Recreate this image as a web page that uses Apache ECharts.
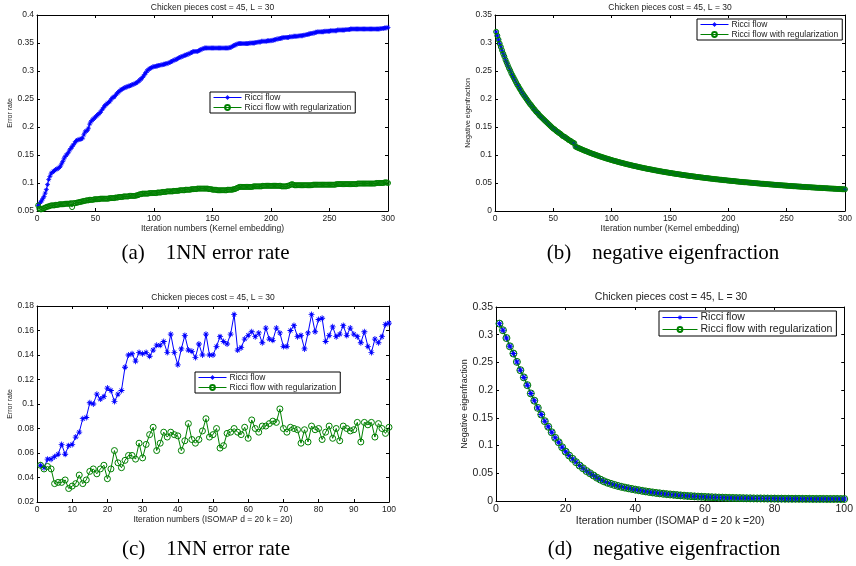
<!DOCTYPE html>
<html>
<head>
<meta charset="utf-8">
<script src="https://cdn.jsdelivr.net/npm/echarts@6/dist/echarts.min.js"></script>
<style>
  html, body { margin: 0; padding: 0; background: #fff; }
  #chart { width: 856px; height: 566px; }
</style>
</head>
<body>
<div id="chart"></div>
<script>
// (a) 1NN error rate, kernel embedding, iterations 1..300
const errRicciA = [
  0.060,0.063,0.066,0.068,0.072,0.076,0.082,0.088,0.097,0.106,
  0.112,0.117,0.119,0.121,0.122,0.124,0.125,0.126,0.128,0.130,
  0.134,0.138,0.143,0.147,0.150,0.152,0.155,0.159,0.162,0.165,
  0.168,0.171,0.174,0.176,0.177,0.178,0.178,0.179,0.180,0.186,
  0.191,0.193,0.194,0.198,0.205,0.209,0.212,0.214,0.216,0.218,
  0.220,0.222,0.224,0.226,0.229,0.232,0.235,0.238,0.240,0.242,
  0.244,0.245,0.248,0.251,0.253,0.254,0.256,0.259,0.261,0.263,
  0.265,0.267,0.268,0.269,0.270,0.271,0.272,0.273,0.273,0.274,
  0.275,0.276,0.277,0.278,0.279,0.280,0.282,0.284,0.286,0.288,
  0.291,0.294,0.297,0.300,0.302,0.304,0.305,0.306,0.307,0.308,
  0.308,0.309,0.309,0.310,0.310,0.311,0.311,0.312,0.312,0.313,
  0.313,0.314,0.315,0.316,0.317,0.318,0.319,0.320,0.321,0.322,
  0.323,0.324,0.325,0.326,0.327,0.328,0.328,0.329,0.330,0.331,
  0.332,0.333,0.334,0.335,0.335,0.335,0.335,0.336,0.337,0.338,
  0.339,0.340,0.341,0.341,0.341,0.341,0.341,0.341,0.341,0.341,
  0.341,0.341,0.341,0.341,0.341,0.341,0.341,0.341,0.341,0.341,
  0.341,0.341,0.341,0.341,0.342,0.343,0.344,0.345,0.346,0.347,
  0.348,0.349,0.349,0.349,0.349,0.349,0.349,0.349,0.349,0.349,
  0.349,0.350,0.350,0.350,0.350,0.350,0.351,0.351,0.352,0.352,
  0.352,0.353,0.353,0.353,0.353,0.353,0.354,0.354,0.354,0.354,
  0.355,0.355,0.356,0.356,0.357,0.357,0.358,0.358,0.359,0.359,
  0.360,0.360,0.360,0.360,0.360,0.361,0.361,0.361,0.362,0.362,
  0.362,0.362,0.362,0.363,0.363,0.363,0.363,0.364,0.364,0.365,
  0.365,0.366,0.366,0.367,0.367,0.368,0.368,0.369,0.369,0.370,
  0.370,0.370,0.370,0.370,0.370,0.371,0.371,0.371,0.371,0.371,
  0.372,0.372,0.372,0.372,0.372,0.372,0.373,0.373,0.373,0.373,
  0.373,0.373,0.373,0.374,0.374,0.374,0.374,0.375,0.375,0.375,
  0.375,0.375,0.375,0.375,0.375,0.375,0.375,0.375,0.375,0.375,
  0.375,0.375,0.375,0.375,0.375,0.375,0.375,0.375,0.375,0.375,
  0.375,0.375,0.375,0.376,0.376,0.376,0.377,0.377,0.377,0.378
];
const errRegA = [
  0.060,0.054,0.053,0.053,0.054,0.055,0.056,0.057,0.058,0.058,
  0.059,0.060,0.060,0.060,0.060,0.061,0.061,0.061,0.062,0.062,
  0.062,0.062,0.062,0.063,0.063,0.063,0.063,0.063,0.064,0.057,
  0.064,0.064,0.064,0.065,0.065,0.066,0.066,0.067,0.067,0.068,
  0.068,0.069,0.069,0.069,0.070,0.070,0.070,0.070,0.071,0.071,
  0.071,0.071,0.071,0.072,0.072,0.072,0.072,0.072,0.072,0.072,
  0.072,0.073,0.073,0.073,0.073,0.073,0.074,0.074,0.074,0.075,
  0.075,0.075,0.075,0.076,0.076,0.076,0.076,0.076,0.077,0.077,
  0.077,0.077,0.077,0.077,0.078,0.078,0.079,0.080,0.080,0.081,
  0.081,0.081,0.081,0.081,0.081,0.082,0.082,0.082,0.082,0.082,
  0.082,0.082,0.083,0.083,0.083,0.083,0.084,0.084,0.084,0.084,
  0.085,0.085,0.085,0.085,0.085,0.085,0.086,0.086,0.086,0.086,
  0.086,0.087,0.087,0.087,0.087,0.087,0.088,0.088,0.088,0.088,
  0.088,0.089,0.089,0.089,0.089,0.089,0.090,0.090,0.090,0.090,
  0.090,0.090,0.090,0.090,0.090,0.090,0.089,0.089,0.089,0.088,
  0.088,0.088,0.088,0.087,0.087,0.087,0.087,0.087,0.087,0.087,
  0.087,0.087,0.088,0.088,0.088,0.088,0.088,0.089,0.089,0.090,
  0.091,0.092,0.093,0.093,0.093,0.093,0.093,0.093,0.093,0.093,
  0.093,0.093,0.093,0.093,0.094,0.094,0.094,0.094,0.094,0.094,
  0.094,0.094,0.095,0.095,0.095,0.095,0.095,0.095,0.095,0.095,
  0.095,0.095,0.095,0.095,0.095,0.095,0.095,0.095,0.094,0.094,
  0.094,0.094,0.094,0.095,0.095,0.096,0.097,0.098,0.097,0.096,
  0.096,0.096,0.096,0.096,0.096,0.096,0.096,0.096,0.096,0.096,
  0.096,0.096,0.096,0.096,0.096,0.097,0.097,0.097,0.097,0.097,
  0.097,0.097,0.097,0.097,0.097,0.097,0.097,0.097,0.097,0.097,
  0.097,0.097,0.097,0.097,0.097,0.098,0.098,0.098,0.098,0.098,
  0.098,0.098,0.098,0.098,0.098,0.098,0.098,0.098,0.098,0.098,
  0.098,0.098,0.098,0.099,0.099,0.099,0.099,0.099,0.099,0.099,
  0.099,0.099,0.099,0.099,0.099,0.099,0.099,0.099,0.099,0.100,
  0.100,0.100,0.100,0.100,0.100,0.100,0.101,0.101,0.101,0.100
];

// (b) negative eigenfraction, kernel embedding (both curves overlap)
const eigRicciB = [
  0.320,0.313,0.306,0.299,0.293,0.287,0.281,0.276,0.270,0.265,
  0.260,0.255,0.251,0.246,0.242,0.238,0.234,0.230,0.226,0.223,
  0.219,0.216,0.212,0.209,0.206,0.203,0.200,0.197,0.194,0.191,
  0.189,0.186,0.183,0.181,0.178,0.176,0.174,0.171,0.169,0.167,
  0.165,0.163,0.161,0.159,0.157,0.155,0.153,0.151,0.149,0.147,
  0.146,0.144,0.142,0.141,0.139,0.138,0.136,0.134,0.133,0.132,
  0.130,0.129,0.127,0.126,0.125,0.123,0.122,0.121,0.1150,0.1140,
  0.1131,0.1121,0.1112,0.1103,0.1094,0.1085,0.1077,0.1068,0.1060,0.1051,
  0.1043,0.1035,0.1027,0.1020,0.1012,0.1004,0.0997,0.0990,0.0983,0.0975,
  0.0968,0.0961,0.0955,0.0948,0.0941,0.0935,0.0928,0.0922,0.0916,0.0910,
  0.0903,0.0897,0.0892,0.0886,0.0880,0.0874,0.0869,0.0863,0.0858,0.0852,
  0.0847,0.0841,0.0836,0.0831,0.0826,0.0821,0.0816,0.0811,0.0806,0.0801,
  0.0797,0.0792,0.0787,0.0783,0.0778,0.0774,0.0769,0.0765,0.0761,0.0756,
  0.0752,0.0748,0.0744,0.0740,0.0736,0.0732,0.0728,0.0724,0.0720,0.0716,
  0.0712,0.0709,0.0705,0.0701,0.0698,0.0694,0.0691,0.0687,0.0684,0.0680,
  0.0677,0.0673,0.0670,0.0667,0.0663,0.0660,0.0657,0.0654,0.0651,0.0647,
  0.0644,0.0641,0.0638,0.0635,0.0632,0.0629,0.0626,0.0623,0.0621,0.0618,
  0.0615,0.0612,0.0609,0.0607,0.0604,0.0601,0.0599,0.0596,0.0593,0.0591,
  0.0588,0.0586,0.0583,0.0581,0.0578,0.0576,0.0573,0.0571,0.0568,0.0566,
  0.0564,0.0561,0.0559,0.0557,0.0554,0.0552,0.0550,0.0548,0.0545,0.0543,
  0.0541,0.0539,0.0537,0.0535,0.0533,0.0531,0.0528,0.0526,0.0524,0.0522,
  0.0520,0.0518,0.0516,0.0514,0.0513,0.0511,0.0509,0.0507,0.0505,0.0503,
  0.0501,0.0499,0.0497,0.0496,0.0494,0.0492,0.0490,0.0488,0.0487,0.0485,
  0.0483,0.0481,0.0480,0.0478,0.0476,0.0475,0.0473,0.0471,0.0470,0.0468,
  0.0466,0.0465,0.0463,0.0462,0.0460,0.0458,0.0457,0.0455,0.0454,0.0452,
  0.0451,0.0449,0.0448,0.0446,0.0445,0.0443,0.0442,0.0440,0.0439,0.0437,
  0.0436,0.0435,0.0433,0.0432,0.0430,0.0429,0.0428,0.0426,0.0425,0.0424,
  0.0422,0.0421,0.0420,0.0418,0.0417,0.0416,0.0414,0.0413,0.0412,0.0411,
  0.0409,0.0408,0.0407,0.0406,0.0405,0.0403,0.0402,0.0401,0.0400,0.0399,
  0.0397,0.0396,0.0395,0.0394,0.0393,0.0392,0.0391,0.0389,0.0388,0.0387
];
const eigRegB = eigRicciB.slice();

// (c) 1NN error rate, ISOMAP, iterations 1..100
const errRicciC = [
  0.050,0.048,0.055,0.055,0.057,0.059,0.067,0.059,0.066,0.067,
  0.073,0.077,0.088,0.089,0.101,0.100,0.108,0.104,0.106,0.113,
  0.111,0.102,0.108,0.111,0.130,0.140,0.141,0.135,0.142,0.141,
  0.142,0.139,0.144,0.148,0.148,0.151,0.142,0.157,0.142,0.132,
  0.145,0.156,0.144,0.143,0.138,0.149,0.140,0.157,0.140,0.140,
  0.147,0.155,0.151,0.149,0.157,0.173,0.144,0.146,0.153,0.156,
  0.159,0.155,0.158,0.150,0.162,0.153,0.152,0.162,0.158,0.147,
  0.147,0.160,0.164,0.155,0.156,0.145,0.158,0.173,0.159,0.169,
  0.170,0.151,0.156,0.163,0.155,0.157,0.164,0.156,0.162,0.157,
  0.155,0.150,0.159,0.147,0.142,0.153,0.150,0.155,0.165,0.166
];
const errRegC = [
  0.050,0.047,0.049,0.047,0.035,0.036,0.036,0.038,0.031,0.033,
  0.035,0.042,0.035,0.038,0.045,0.047,0.043,0.047,0.050,0.039,
  0.047,0.062,0.052,0.048,0.054,0.058,0.058,0.055,0.068,0.056,
  0.067,0.075,0.081,0.062,0.068,0.077,0.073,0.077,0.075,0.074,
  0.062,0.070,0.084,0.071,0.068,0.071,0.078,0.088,0.073,0.075,
  0.080,0.064,0.066,0.076,0.077,0.080,0.077,0.075,0.081,0.072,
  0.087,0.080,0.077,0.082,0.082,0.084,0.086,0.085,0.096,0.080,
  0.077,0.081,0.080,0.079,0.068,0.079,0.069,0.082,0.079,0.080,
  0.071,0.077,0.082,0.072,0.080,0.070,0.082,0.080,0.078,0.079,
  0.085,0.069,0.085,0.083,0.085,0.073,0.084,0.080,0.076,0.081
];

// (d) negative eigenfraction, ISOMAP (both curves overlap)
const eigRicciD = [
  0.320,0.308,0.294,0.279,0.266,0.251,0.236,0.223,0.209,0.194,
  0.181,0.168,0.156,0.144,0.134,0.124,0.114,0.106,0.097,0.089,
  0.082,0.076,0.070,0.064,0.059,0.054,0.050,0.046,0.042,0.0385,
  0.0355,0.0330,0.0310,0.0290,0.0272,0.0256,0.0242,0.0229,0.0217,0.0205,
  0.0194,0.0183,0.0173,0.0163,0.0154,0.0146,0.0138,0.0131,0.0124,0.0118,
  0.0112,0.0106,0.0101,0.0096,0.0091,0.0087,0.0083,0.0079,0.0076,0.0073,
  0.0070,0.0067,0.0065,0.0062,0.0060,0.0058,0.0056,0.0055,0.0053,0.0052,
  0.0051,0.0049,0.0048,0.0047,0.0046,0.0046,0.0045,0.0044,0.0043,0.0043,
  0.0042,0.0042,0.0041,0.0041,0.0040,0.0040,0.0040,0.0039,0.0039,0.0039,
  0.0038,0.0038,0.0038,0.0038,0.0037,0.0037,0.0037,0.0037,0.0036,0.0036
];
const eigRegD = eigRicciD.slice();

const seriesNames = ['Ricci flow', 'Ricci flow with regularization'];
const plotTitle = 'Chicken pieces cost = 45, L = 30';
const xNames = [
  'Iteration numbers (Kernel embedding)',
  'Iteration number (Kernel embedding)',
  'Iteration numbers (ISOMAP d = 20 k = 20)',
  'Iteration number (ISOMAP d = 20 k =20)'
];
const yNames = ['Error rate', 'Negative eigenfraction', 'Error rate', 'Negative eigenfraction'];
const captions = ['(a)\u2003 1NN error rate', '(b)\u2003 negative eigenfraction', '(c)\u2003 1NN error rate', '(d)\u2003 negative eigenfraction']
  .map(s => s.replace('\u2003 ', '\u2003'));

const SANS = '"Liberation Sans", Arial, sans-serif';
const TXT = '#222';
const BLUE = '#0000ff';
const GREEN = '#008000';
// matlab style "*" marker
const STAR = 'path://M4.3,0H5.7V10H4.3Z M0,4.3H10V5.7H0Z M1.2,2.2L2.2,1.2 8.8,7.8 7.8,8.8Z M7.8,1.2L8.8,2.2 2.2,8.8 1.2,7.8Z';

const panels = [
  { grid: {left: 37, top: 15, width: 351, height: 196}, x: [0, 300, 50], y: [0.05, 0.4, 0.05],
    fs: 8.5, legend: {left: 210, top: 92, w: 28}, ricci: errRicciA, reg: errRegA, sym: 5, yGap: 22, titleY: 8 },
  { grid: {left: 495, top: 15, width: 350, height: 196}, x: [0, 300, 50], y: [0, 0.35, 0.05],
    fs: 8.5, legend: {left: 697, top: 19, w: 28}, ricci: eigRicciB, reg: eigRegB, sym: 5, yGap: 22, titleY: 8 },
  { grid: {left: 37, top: 306, width: 352, height: 196}, x: [0, 100, 10], y: [0.02, 0.18, 0.02],
    fs: 8.5, legend: {left: 195, top: 372, w: 28}, ricci: errRicciC, reg: errRegC, sym: 6, yGap: 22, titleY: 298 },
  { grid: {left: 496, top: 307, width: 350, height: 194}, x: [0, 100, 20], y: [0, 0.35, 0.05],
    fs: 10.5, legend: {left: 659, top: 311, w: 35}, ricci: eigRicciD, reg: eigRegD, sym: 7, yGap: 27, titleY: 297 }
];

const toPairs = arr => arr.map((v, i) => [i + 1, v]);

const grid = [], xAxis = [], yAxis = [], series = [], legend = [], graphic = [];

panels.forEach((p, i) => {
  grid.push(Object.assign({containLabel: false}, p.grid));
  const line = {onZero: false, lineStyle: {color: '#000', width: 1}};
  const tick = {inside: true, length: 3, lineStyle: {color: '#000'}};
  const lbl = {fontSize: p.fs, color: TXT, fontFamily: SANS, margin: 3};
  xAxis.push({
    type: 'value', gridIndex: i, min: p.x[0], max: p.x[1], interval: p.x[2], position: 'bottom',
    name: xNames[i], nameLocation: 'middle', nameGap: p.fs + 2,
    nameTextStyle: {fontSize: p.fs, color: TXT, fontFamily: SANS},
    axisLine: line, axisTick: tick, axisLabel: lbl, splitLine: {show: false}
  });
  xAxis.push({
    type: 'value', gridIndex: i, min: p.x[0], max: p.x[1], interval: p.x[2], position: 'top',
    axisLine: line, axisTick: tick, axisLabel: {show: false}, splitLine: {show: false}
  });
  yAxis.push({
    type: 'value', gridIndex: i, min: p.y[0], max: p.y[1], interval: p.y[2], position: 'left',
    name: yNames[i], nameLocation: 'middle', nameGap: p.yGap,
    nameTextStyle: {fontSize: p.fs - 1.5, color: TXT, fontFamily: SANS},
    axisLine: line, axisTick: tick, axisLabel: lbl, splitLine: {show: false}
  });
  yAxis.push({
    type: 'value', gridIndex: i, min: p.y[0], max: p.y[1], interval: p.y[2], position: 'right',
    axisLine: line, axisTick: tick, axisLabel: {show: false}, splitLine: {show: false}
  });

  series.push({
    name: seriesNames[0], type: 'line', xAxisIndex: 2 * i, yAxisIndex: 2 * i, color: BLUE,
    data: toPairs(p.ricci), symbol: STAR, symbolSize: p.sym,
    lineStyle: {color: BLUE, width: 1}, itemStyle: {color: BLUE}
  });
  // hollow circles, like matlab 'o' markers
  series.push({
    name: seriesNames[1], type: 'line', xAxisIndex: 2 * i, yAxisIndex: 2 * i, color: GREEN,
    data: toPairs(p.reg), symbol: 'circle', symbolSize: p.sym,
    lineStyle: {color: GREEN, width: 1},
    itemStyle: {color: 'rgba(0,0,0,0)', borderColor: GREEN, borderWidth: 1}
  });

  legend.push({
    data: seriesNames, left: p.legend.left, top: p.legend.top, orient: 'vertical',
    backgroundColor: '#fff', borderColor: '#000', borderWidth: 1,
    padding: [1, 4, 1, 3], itemGap: 1, itemWidth: p.legend.w, itemHeight: 6,
    lineStyle: {width: 1},
    textStyle: {fontSize: p.fs, color: TXT, fontFamily: SANS, padding: [0, 0, 0, -2]},
    selectedMode: false
  });

  const cx = p.grid.left + p.grid.width / 2;
  graphic.push({
    type: 'text', x: cx, y: p.titleY,
    style: {text: plotTitle, fill: TXT, font: p.fs + 'px ' + SANS, textAlign: 'center', textVerticalAlign: 'middle'}
  });
  graphic.push({
    type: 'text', x: cx - 7, y: i < 2 ? 253 : 549,
    style: {text: captions[i], fill: '#000', font: '21px "Liberation Serif", "Times New Roman", serif',
      textAlign: 'center', textVerticalAlign: 'middle'}
  });
});

const chart = echarts.init(document.getElementById('chart'), null, {renderer: 'canvas'});
chart.setOption({
  animation: false,
  backgroundColor: '#fff',
  grid, xAxis, yAxis, series, legend, graphic
});
</script>
</body>
</html>
